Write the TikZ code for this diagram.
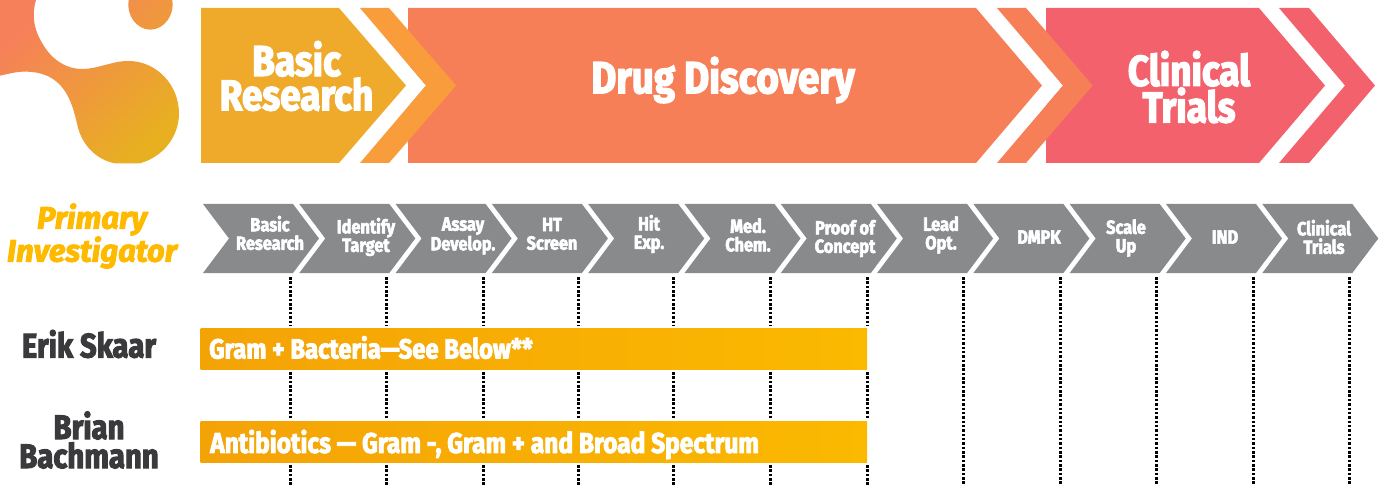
\documentclass[tikz,border=0pt]{standalone}
\usepackage{fontspec}
\usetikzlibrary{calc}
\newfontfamily\hvy{Fira Sans}[FakeStretch=0.86,BoldFont={* Bold},BoldFeatures={FakeBold=3}]
\newfontfamily\hvyit{Fira Sans}[FakeStretch=1.0,ItalicFont={* Italic},BoldFont={* Bold},BoldItalicFont={* Bold Italic},BoldItalicFeatures={FakeBold=3}]
\definecolor{basicc}{HTML}{EFAA2C}
\definecolor{chevc}{HTML}{F99D3C}
\definecolor{drugc}{HTML}{F67F57}
\definecolor{clinc}{HTML}{F3616C}
\definecolor{grayc}{HTML}{888A8C}
\definecolor{pic}{HTML}{FFBA00}
\definecolor{namec}{HTML}{3A3A3C}
\definecolor{barl}{HTML}{F4A307}
\definecolor{barr}{HTML}{FBB900}
\definecolor{logoa}{HTML}{F6805A}
\definecolor{logob}{HTML}{E8B020}
\tikzset{
  big/.style={text=white,align=center,inner sep=0pt,font=\hvy\bfseries\fontsize{43}{32}\selectfont},
  small/.style={text=white,align=center,inner sep=0pt,font=\hvy\bfseries\fontsize{19}{18.5}\selectfont},
  person/.style={text=namec,align=center,inner sep=0pt,font=\hvy\bfseries\fontsize{34}{29}\selectfont},
  pihead/.style={text=pic,align=center,inner sep=0pt,font=\hvyit\bfseries\itshape\fontsize{31}{30}\selectfont},
  bartext/.style={text=white,anchor=west,inner sep=0pt,font=\hvy\bfseries\fontsize{28.5}{28}\selectfont},
  dots/.style={black,line width=3pt,dash pattern=on 2.5pt off 1.85pt},
  gbar/.style={left color=barl,right color=barr,draw=none}
}
\begin{document}
\begin{tikzpicture}[x=1pt,y=-1pt]
\useasboundingbox (0,0) rectangle (1383,486);
\clip (0,0) rectangle (1383,486);
% logo
\begin{scope}[x=0.3333pt,y=-0.3333pt]
\shade[top color=logoa,middle color=chevc,bottom color=logob,shading angle=42]
 (0,0) -- (108,0) .. controls (96,40) and (98,85) .. (130,135)
 .. controls (160,185) and (205,207) .. (245,207)
 .. controls (295,207) and (335,183) .. (385,183)
 .. controls (470,183) and (537,255) .. (537,340)
 .. controls (537,410) and (490,470) .. (420,490)
 -- (345,490) .. controls (290,480) and (245,435) .. (232,375)
 .. controls (215,300) and (190,215) .. (75,215)
 .. controls (45,215) and (25,222) .. (0,227) -- cycle
 (386,0) .. controls (378,45) and (410,89) .. (451,89)
 .. controls (492,89) and (525,45) .. (517,0) -- cycle;
\end{scope}
% top band
\fill[clinc] (1046,8) -- (1259,8) -- (1325,85.5) -- (1259,163) -- (1046,163) -- cycle;
\fill[white] (997,8) -- (1063,85.5) -- (997,163) -- cycle;
\fill[drugc] (408,8) -- (976,8) -- (1042,85.5) -- (976,163) -- (408,163) -- cycle;
\fill[white] (360,8) -- (426,85.5) -- (360,163) -- cycle;
\fill[basicc] (201,8) -- (339,8) -- (406,85.5) -- (339,163) -- (201,163) -- cycle;
\fill[chevc] (360,8) -- (389,8) -- (456,85.5) -- (389,163) -- (360,163) -- (426,85.5) -- cycle;
\fill[drugc] (997,8) -- (1026,8) -- (1092.7,85.5) -- (1026,163) -- (997,163) -- (1063,85.5) -- cycle;
\fill[clinc] (1279,8) -- (1309,8) -- (1375,85.5) -- (1309,163) -- (1279,163) -- (1345,85.5) -- cycle;
\node[big] (basic) at (296.5,76) {Basic\\Research};
\node[big,font=\hvy\bfseries\fontsize{44.8}{32}\selectfont] (drug) at (723,80) {Drug Discovery};
\node[big] (clin) at (1189,87) {Clinical\\Trials};
% grey chevrons
\foreach \i in {0,...,11}{
  \pgfmathsetmacro{\xa}{203+96.3*\i}
  \fill[grayc] (\xa,204) -- ({\xa+90},204) -- ({\xa+116},238.5) -- ({\xa+90},273) -- (\xa,273) -- ({\xa+26},238.5) -- cycle;
}
\node[small] (s1) at (270,233) {Basic\\Research};
\node[small] (s2) at (366,237) {Identify\\Target};
\node[small] (s3) at (463,236) {Assay\\Develop.};
\node[small] (s4) at (552,234) {HT\\Screen};
\node[small] (s5) at (649,234) {Hit\\Exp.};
\node[small] (s6) at (748,235) {Med.\\Chem.};
\node[small] (s7) at (845,238.5) {Proof of\\Concept};
\node[small] (s8) at (941,235) {Lead\\Opt.};
\node[small] (s9) at (1039,237) {DMPK};
\node[small] (s10) at (1126,238) {Scale\\Up};
\node[small] (s11) at (1225,237) {IND};
\node[small] (s12) at (1324,237) {Clinical\\Trials};
% dotted columns
\foreach \x in {290,386,483,578,673,770,867,963,1060,1156,1253,1349}{
  \coordinate (a\x) at (\x,277);
  \coordinate (b\x) at (\x,486);
}
\foreach \x in {963,1060,1156,1253,1349}{\draw[dots] (a\x) -- (b\x);}
\foreach \x in {290,386,483,578,673,770,867}{
  \coordinate (c\x) at (\x,325);
  \coordinate (d\x) at (\x,372);
  \coordinate (e\x) at (\x,418);
  \coordinate (f\x) at (\x,465);
  \draw[dots] (a\x) -- (c\x);
  \draw[dots] (d\x) -- (e\x);
  \draw[dots] (f\x) -- (b\x);
}
% bars
\shade[gbar] (200.5,328) rectangle (867,369.5);
\shade[gbar] (200.5,421) rectangle (867,462);
\node[bartext,font=\hvy\bfseries\fontsize{27.7}{28}\selectfont] (t1) at (209,347.5) {Gram + Bacteria—See Below**};
\node[bartext] (t2) at (210,444.5) {Antibiotics — Gram -, Gram + and Broad Spectrum};
% names
\node[pihead] (pi) at (92,236) {Primary\\Investigator};
\node[person] (erik) at (89,344) {Erik Skaar};
\node[person] (brian) at (89,440) {Brian\\Bachmann};
\end{tikzpicture}
\end{document}
